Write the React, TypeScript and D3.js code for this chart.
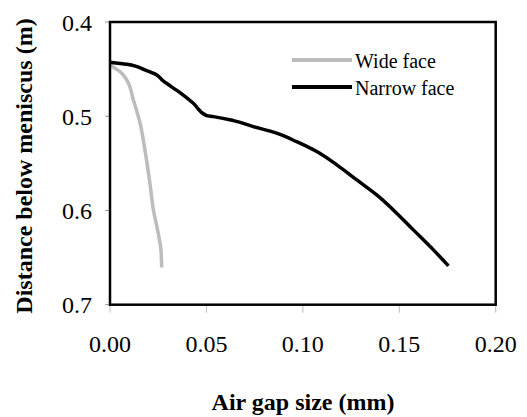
import React from "react";
import * as d3 from "d3";

const xTicks = [0, 0.05, 0.1, 0.15, 0.2];
const yTicks = [0.4, 0.5, 0.6, 0.7];

const narrowX = [0, 0.0087, 0.019, 0.0233, 0.0276, 0.0363, 0.0432, 0.0501, 0.0536, 0.064, 0.0743, 0.0864, 0.0968, 0.1072, 0.1176, 0.128, 0.1383, 0.1469, 0.1573, 0.1677, 0.1755];
const narrowY = [0.4427, 0.4449, 0.4516, 0.4551, 0.4626, 0.475, 0.4862, 0.4994, 0.5004, 0.5047, 0.511, 0.518, 0.527, 0.5375, 0.5516, 0.5676, 0.5835, 0.5994, 0.6206, 0.6418, 0.6588];

const wideX = [0, 0.0014, 0.0052, 0.0087, 0.0121, 0.0156, 0.0181, 0.0207, 0.0225, 0.025, 0.0264, 0.0268];
const wideY = [0.4445, 0.4474, 0.4527, 0.4615, 0.4827, 0.5074, 0.5357, 0.571, 0.5994, 0.6241, 0.6418, 0.6606];

const seriesNames = ["Wide face", "Narrow face"];
const seriesColors = ["#bcbcbc", "#000000"];

export default function App() {
  const W = 527, H = 417;
  const left = 110, right = 495.7, top = 22, bottom = 304.7;
  const x = d3.scaleLinear().domain([0, 0.2]).range([left, right]);
  const y = d3.scaleLinear().domain([0.4, 0.7]).range([top, bottom]);
  const line = d3.line<[number, number]>().x(d => x(d[0])).y(d => y(d[1])).curve(d3.curveMonotoneY);
  const wide: [number, number][] = wideX.map((v, i) => [v, wideY[i]]);
  const narrow: [number, number][] = narrowX.map((v, i) => [v, narrowY[i]]);
  const fs = (size: number, bold = false) => ({ fontFamily: "Liberation Serif", fontSize: size + "px", fontWeight: bold ? 700 : 400 });
  return (
    <svg width={W} height={H} style={{ position: "absolute", left: 0, top: 0, background: "#fff" }}>
      <rect x={0} y={0} width={W} height={H} fill="#fff" />
      {yTicks.map(t => (
        <g key={"y" + t}>
          <line x1={left - 5} x2={left} y1={y(t)} y2={y(t)} stroke="#999" strokeWidth={1} />
          <text x={92} y={y(t) + 8.5} textAnchor="end" style={fs(24)} fill="#000">{d3.format(".1f")(t)}</text>
        </g>
      ))}
      {xTicks.map(t => (
        <g key={"x" + t}>
          <line x1={x(t)} x2={x(t)} y1={bottom} y2={bottom + 8} stroke="#bbb" strokeWidth={1} />
          <text x={x(t)} y={351.5} textAnchor="middle" style={fs(24)} fill="#000">{d3.format(".2f")(t)}</text>
        </g>
      ))}
      <path d={line(wide) || ""} fill="none" stroke={seriesColors[0]} strokeWidth={3.5} strokeLinejoin="round" />
      <path d={line(narrow) || ""} fill="none" stroke={seriesColors[1]} strokeWidth={3.5} strokeLinejoin="round" />
      <rect x={left} y={top} width={right - left} height={bottom - top} fill="none" stroke="#000" strokeWidth={2.5} />
      {seriesNames.map((n, i) => (
        <g key={n}>
          <line x1={292} x2={352} y1={60 + i * 27} y2={60 + i * 27} stroke={seriesColors[i]} strokeWidth={4} />
          <text x={355} y={67.5 + i * 27.5} style={fs(20)} fill="#000">{n}</text>
        </g>
      ))}
      <text x={303} y={409.5} textAnchor="middle" style={fs(24, true)} fill="#000">Air gap size (mm)</text>
      <text transform="translate(32,166) rotate(-90)" textAnchor="middle" style={fs(24, true)} fill="#000">Distance below meniscus (m)</text>
    </svg>
  );
}
